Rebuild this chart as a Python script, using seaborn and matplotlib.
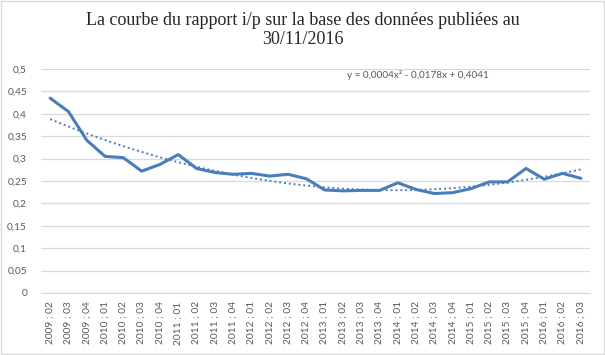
import numpy as np
import pandas as pd
import matplotlib
matplotlib.use("Agg")
import matplotlib.pyplot as plt
import seaborn as sns
from matplotlib.ticker import FuncFormatter, MultipleLocator
from matplotlib.patches import Rectangle

categories = ["2009 ; 02", "2009 ; 03", "2009 ; 04",
              "2010 ; 01", "2010 ; 02", "2010 ; 03", "2010 ; 04",
              "2011 ; 01", "2011 ; 02", "2011 ; 03", "2011 ; 04",
              "2012 ; 01", "2012 ; 02", "2012 ; 03", "2012 ; 04",
              "2013 ; 01", "2013 ; 02", "2013 ; 03", "2013 ; 04",
              "2014 ; 01", "2014 ; 02", "2014 ; 03", "2014 ; 04",
              "2015 ; 01", "2015 ; 02", "2015 ; 03", "2015 ; 04",
              "2016 ; 01", "2016 ; 02", "2016 ; 03"]
ratio = [0.435, 0.405, 0.341, 0.305, 0.302, 0.272, 0.287, 0.309, 0.278, 0.269,
         0.265, 0.267, 0.261, 0.265, 0.255, 0.230, 0.228, 0.229, 0.229, 0.246,
         0.231, 0.222, 0.224, 0.233, 0.248, 0.248, 0.278, 0.254, 0.267, 0.256]
title = "La courbe du rapport i/p sur la base des données publiées au\n30/11/2016"
equation = "y = 0,0004x² - 0,0178x + 0,4041"

blue = "#4a7ebb"
grey_txt = "#595959"

idx = np.arange(len(categories))
df = pd.DataFrame({"idx": idx, "ratio": ratio})
coef = np.polyfit(idx + 1, df["ratio"], 2)
df["trend"] = np.polyval(coef, idx + 1)

sns.set_theme(style="white")
plt.rcParams["font.family"] = ["Lato", "DejaVu Sans"]

fig = plt.figure(figsize=(6.05, 3.55), dpi=100)
ax = fig.add_axes([41 / 605, 1 - 293 / 355, 549 / 605, 224 / 355])

sns.lineplot(data=df, x="idx", y="trend", ax=ax, color=blue, lw=1.4,
             linestyle=(0, (1, 1.5)), zorder=2)
sns.lineplot(data=df, x="idx", y="ratio", ax=ax, color=blue, lw=2.2, zorder=3)

ax.set_xlim(-0.5, len(categories) - 0.5)
ax.set_ylim(0, 0.5)
ax.yaxis.set_major_locator(MultipleLocator(0.05))
ax.yaxis.set_major_formatter(FuncFormatter(lambda v, p: ("%g" % round(v, 2)).replace(".", ",")))
ax.set_xticks(idx)
ax.set_xticklabels(categories, rotation=90)
ax.tick_params(axis="both", length=0, labelsize=7.3, labelcolor=grey_txt)
ax.tick_params(axis="x", pad=6)
ax.tick_params(axis="y", pad=10)
ax.grid(axis="y", color="#d9d9d9", lw=0.9)
ax.grid(axis="x", visible=False)
for s in ["top", "right", "left"]:
    ax.spines[s].set_visible(False)
ax.spines["bottom"].set_color("#d9d9d9")
ax.spines["bottom"].set_linewidth(0.9)
ax.set_xlabel("")
ax.set_ylabel("")

ax.text(0.557, 0.972, equation, transform=ax.transAxes, fontsize=7.2,
        color=grey_txt, ha="left", va="center")

fig.text(0.5, 1 - 30 / 355, title, ha="center", va="center",
         fontsize=13, family=["Liberation Serif", "DejaVu Serif"],
         color="#262626", linespacing=1.1)

fig.patches.append(Rectangle((0.001, 0.002), 0.997, 0.995, transform=fig.transFigure,
                             fill=False, edgecolor="#d9d9d9", lw=1))

fig.savefig("out.png", dpi=100, facecolor="white")
